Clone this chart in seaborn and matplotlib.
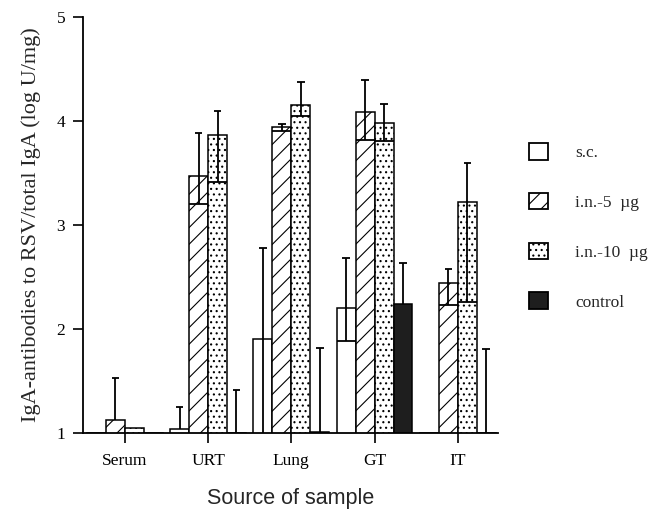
import matplotlib
matplotlib.use("Agg")

import matplotlib.pyplot as plt
from matplotlib.patches import Patch
import seaborn as sns
import pandas as pd

# values (log U/mg), bars start at the axis floor of 1
categories = ["Serum", "URT", "Lung", "GT", "IT"]
groups = ["s.c.", "i.n.-5  µg", "i.n.-10  µg", "control"]

sc_mean = [1.00, 1.04, 1.90, 2.20, 1.00]
sc_low = [1.00, 1.04, 1.00, 1.88, 1.00]
sc_high = [1.00, 1.25, 2.78, 2.68, 1.00]

in5_mean = [1.12, 3.47, 3.94, 4.09, 2.44]
in5_low = [1.12, 3.20, 3.90, 3.82, 2.23]
in5_high = [1.53, 3.88, 3.97, 4.39, 2.58]

in10_mean = [1.05, 3.86, 4.15, 3.98, 3.22]
in10_low = [1.05, 3.41, 4.05, 3.81, 2.26]
in10_high = [1.05, 4.10, 4.37, 4.16, 3.60]

ctrl_mean = [1.00, 1.00, 1.01, 2.24, 1.00]
ctrl_low = [1.00, 1.00, 1.00, 2.24, 1.00]
ctrl_high = [1.00, 1.41, 1.82, 2.63, 1.81]

means = [sc_mean, in5_mean, in10_mean, ctrl_mean]
lows = [sc_low, in5_low, in10_low, ctrl_low]
highs = [sc_high, in5_high, in10_high, ctrl_high]

faces = ["white", "white", "white", "#1e1e1e"]
hatches = [None, "//", "...", None]

df = pd.DataFrame({
    "source": categories * len(groups),
    "group": [g for g in groups for _ in categories],
    "value": [v for m in means for v in m],
})

sns.set_style("ticks")
plt.rcParams["font.family"] = ["Liberation Serif", "DejaVu Serif"]
plt.rcParams["hatch.linewidth"] = 0.8

fig = plt.figure(figsize=(6.55, 5.14), dpi=100)
ax = fig.add_axes([0.127, 0.158, 0.633, 0.809])

sns.barplot(data=df, x="source", y="value", hue="group", hue_order=groups,
            order=categories, palette=faces, width=0.91, gap=0,
            errorbar=None, edgecolor="black", linewidth=1.1,
            legend=False, ax=ax)

# error bars: stem + small top cap, full-width line at the lower bound
for i, cont in enumerate(ax.containers):
    for j, bar in enumerate(cont):
        bar.set_facecolor(faces[i])
        bar.set_edgecolor("black")
        if hatches[i]:
            bar.set_hatch(hatches[i])
        w = bar.get_width()
        xc = bar.get_x() + w / 2
        lo, hi, m = lows[i][j], highs[i][j], means[i][j]
        if hi > lo:
            ax.vlines(xc, lo, hi, color="black", lw=1.3, zorder=4)
            ax.hlines(hi, xc - w * 0.2, xc + w * 0.2, color="black", lw=1.3, zorder=4)
        if 1.0 < lo < m:
            ax.hlines(lo, bar.get_x(), bar.get_x() + w, color="black", lw=1.3, zorder=4)

ax.set_ylim(1, 5)
ax.set_xlim(-0.50, 4.48)
ax.set_yticks([1, 2, 3, 4, 5])
sns.despine(ax=ax)
for s in ["left", "bottom"]:
    ax.spines[s].set_linewidth(1.3)
    ax.spines[s].set_color("black")
ax.tick_params(axis="x", direction="out", length=7.5, width=1.2, labelsize=12.5, pad=7, colors="black")
ax.tick_params(axis="y", direction="out", length=7, width=1.2, labelsize=12.5, pad=6, colors="black")

ax.set_ylabel("IgA-antibodies to RSV/total IgA (log U/mg)", fontsize=16, labelpad=11)
ax.set_xlabel("Source of sample", fontsize=15.5, family=["Liberation Sans", "DejaVu Sans"], labelpad=14)

handles = [Patch(facecolor=faces[i], edgecolor="black", hatch=hatches[i], linewidth=1.3)
           for i in range(len(groups))]
fig.legend(handles, groups, loc="upper left", bbox_to_anchor=(0.808, 0.722),
           frameon=False, fontsize=12.5, handlelength=1.1, handleheight=1.1,
           labelspacing=1.82, handletextpad=1.55, borderpad=0, borderaxespad=0)

fig.savefig("out.png", dpi=100)
